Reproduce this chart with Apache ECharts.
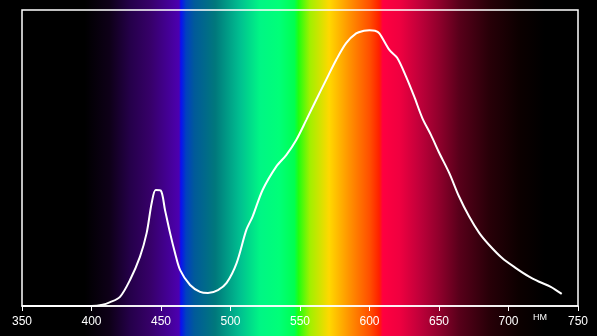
<!DOCTYPE html>
<html>
<head>
<meta charset="utf-8">
<script src="https://cdn.jsdelivr.net/npm/echarts@6/dist/echarts.min.js"></script>
<style>
html,body{margin:0;padding:0;background:#000;}
#chart{width:597px;height:336px;}
</style>
</head>
<body>
<div id="chart"></div>
<script>
// Data
var wavelengths = [350, 380, 400, 408, 413, 420.5, 427.7, 434.9, 439.7, 443.3, 446.2, 449.8, 452.9, 456.5, 460.1, 463.7, 470.9, 478.1, 483.8, 491, 497.2, 504.4, 511.4, 515.9, 523.1, 532.9, 540.1, 547.3, 554.5, 561.6, 568.8, 576, 583.2, 590.4, 596, 600, 604, 607.1, 614.3, 620, 626.3, 632.2, 638, 644.2, 650.2, 657.4, 664.5, 671.7, 678.9, 686.1, 695.4, 705.3, 714.8, 722, 730.4, 738.3];
var intensity   = [0, 0, 0, 0.004, 0.012, 0.031, 0.088, 0.167, 0.247, 0.348, 0.392, 0.390, 0.324, 0.247, 0.179, 0.122, 0.071, 0.048, 0.044, 0.054, 0.078, 0.145, 0.257, 0.302, 0.392, 0.471, 0.510, 0.561, 0.628, 0.696, 0.764, 0.831, 0.888, 0.921, 0.930, 0.932, 0.930, 0.921, 0.865, 0.838, 0.775, 0.707, 0.635, 0.578, 0.517, 0.449, 0.369, 0.302, 0.247, 0.206, 0.162, 0.128, 0.099, 0.082, 0.065, 0.041];
var tickLabels = ['350','400','450','500','550','600','650','700','750'];
var unitLabel = 'НМ';
// spectrum background stops: wavelength, colour
var spectrumNm    = [395, 413, 428, 442, 463, 464.3, 468, 474, 489, 507, 521, 535, 546, 549, 557, 571, 586, 600, 607, 609.5, 621.5, 636, 650, 664.5, 686, 707.6, 726];
var spectrumColor = ['#000000','#0e0018','#25004a','#360068','#4c00b0','#0a10f0','#0040c0','#005a9a','#00787c','#00c090','#00f585','#00ff78','#00ff50','#20ff10','#a0f000','#ffd800','#ff9000','#ff5000','#ff2000','#ff0040','#f00040','#c0003a','#90002c','#58001a','#280008','#0c0000','#000000'];

var W = 597, H = 336;
var gridLeft = 22, gridRight = 19, gridTop = 10, gridBottom = 30;
var xMin = 350, xMax = 750;
function nmToOffset(nm) {
  var px = gridLeft + (nm - xMin) * (W - gridLeft - gridRight) / (xMax - xMin);
  return Math.max(0, Math.min(1, px / W));
}
var stops = spectrumNm.map(function (nm, i) {
  return { offset: nmToOffset(nm), color: spectrumColor[i] };
});

var chart = echarts.init(document.getElementById('chart'), null, { renderer: 'canvas' });
chart.setOption({
  backgroundColor: '#000',
  animation: false,
  graphic: [
    {
      type: 'rect', z: -10, silent: true,
      shape: { x: 0, y: 0, width: W, height: H },
      style: { fill: new echarts.graphic.LinearGradient(0, 0, 1, 0, stops) }
    },
    {
      type: 'text', left: 533, top: 313, z: 10,
      style: { text: unitLabel, fill: '#fff', font: '9px "Liberation Sans", Arial, sans-serif' }
    }
  ],
  grid: {
    left: gridLeft, right: gridRight, top: gridTop, bottom: gridBottom,
    show: true, borderColor: '#fff', borderWidth: 1.5, backgroundColor: 'transparent'
  },
  xAxis: {
    type: 'value', min: xMin, max: xMax, interval: 50,
    axisLine: { show: true, lineStyle: { color: '#fff', width: 1.5 } },
    axisTick: { show: true, length: 5, lineStyle: { color: '#fff', width: 1 } },
    splitLine: { show: false },
    axisLabel: {
      color: '#fff', fontSize: 12, margin: 10,
      fontFamily: '"Liberation Sans", Arial, sans-serif',
      formatter: function (v) { return tickLabels[Math.round((v - xMin) / 50)] || ''; }
    }
  },
  yAxis: {
    type: 'value', min: 0, max: 1, show: false, splitLine: { show: false }
  },
  series: [{
    type: 'line',
    data: wavelengths.map(function (w, i) { return [w, intensity[i]]; }),
    showSymbol: false, symbol: 'none', smooth: 0.3,
    lineStyle: { color: '#ffffff', width: 2 }
  }]
});
</script>
</body>
</html>
